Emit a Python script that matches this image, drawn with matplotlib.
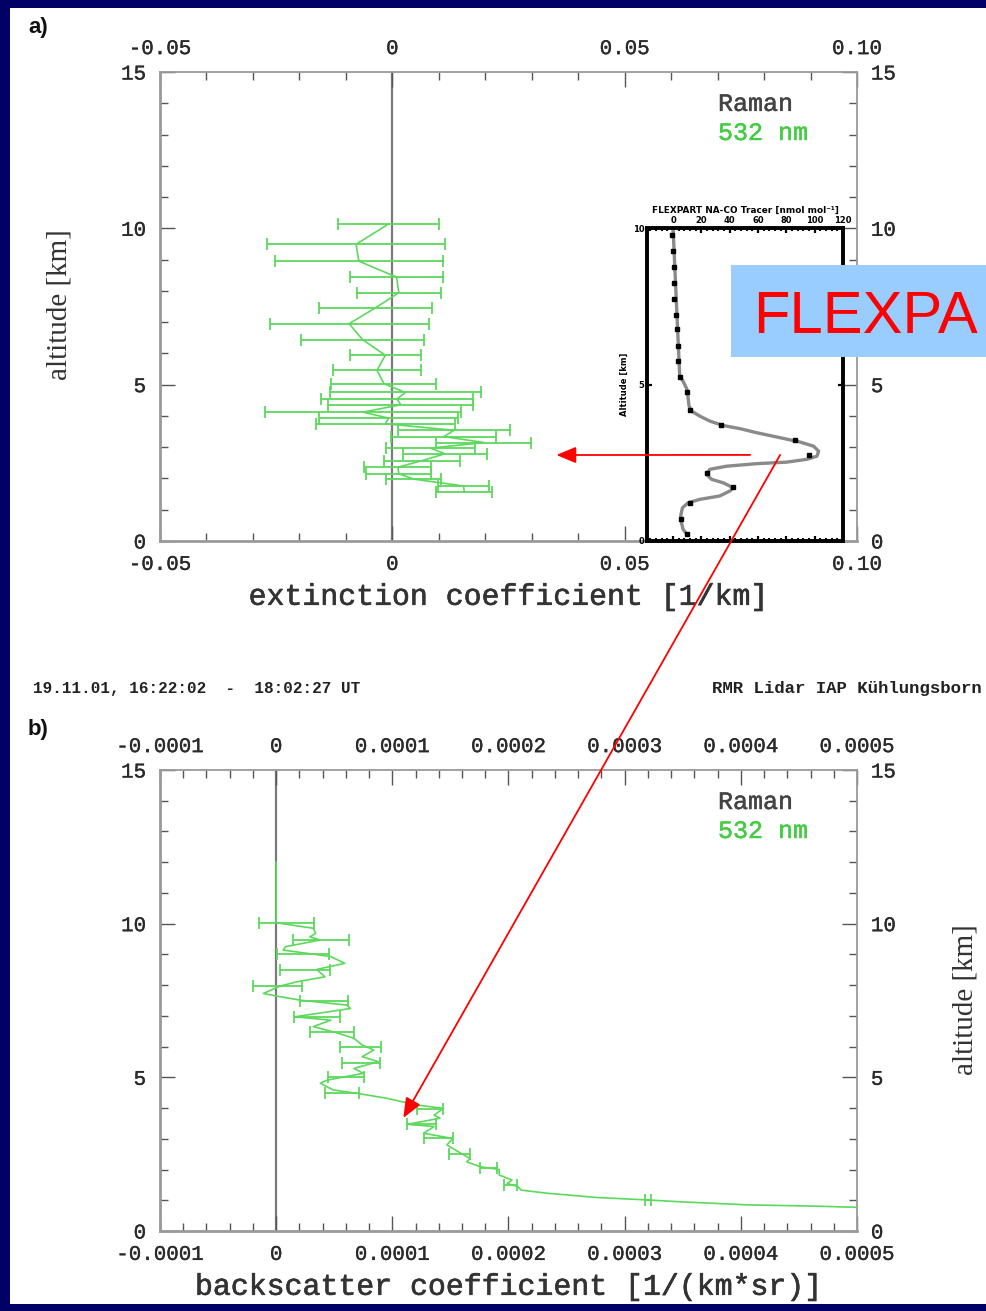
import matplotlib
matplotlib.use("Agg")
import matplotlib.pyplot as plt
import matplotlib.patheffects as pe
from matplotlib.patches import Rectangle, ConnectionPatch
from matplotlib.ticker import MultipleLocator

# ---------------- data ----------------
# (a) Raman extinction coefficient [1/km] with uncertainty
ext_alt = [10.13, 9.49, 8.95, 8.44, 7.94, 7.46, 6.95, 6.44, 5.94, 5.46, 5.03,
           4.75, 4.54, 4.36, 4.12, 3.93, 3.75, 3.54, 3.34, 3.15, 2.97, 2.79,
           2.57, 2.36, 2.15, 1.98, 1.76, 1.58]
ext_val = [-0.0009, -0.0078, -0.0072, 0.0009, 0.0014, -0.0036, -0.0093, -0.0064,
           -0.0015, -0.0033, -0.0018, 0.0028, 0.0010, 0.0018, -0.0063, -0.0008,
           -0.0015, 0.0133, 0.0111, 0.0197, 0.0082, 0.0113, 0.0064, 0.0012,
           0.0014, 0.0046, 0.0153, 0.0155]
ext_err = [0.0109, 0.0192, 0.0181, 0.0100, 0.0090, 0.0121, 0.0171, 0.0132,
           0.0076, 0.0094, 0.0113, 0.0163, 0.0163, 0.0156, 0.0211, 0.0149,
           0.0149, 0.0120, 0.0113, 0.0102, 0.0095, 0.0090, 0.0082, 0.0072,
           0.0070, 0.0059, 0.0055, 0.0060]
ext_ticks = [-0.05, 0.0, 0.05, 0.10]
ext_ticklabels = ["-0.05", "0", "0.05", "0.10"]

# (b) Raman backscatter coefficient [1/(km*sr)] profile
bsc_alt = [12.0, 11.0, 10.03, 9.85, 9.68, 9.57, 9.47, 9.25, 9.14, 8.93, 8.71,
           8.51, 8.27, 8.11, 7.97, 7.73, 7.64, 7.51, 7.35, 7.24, 6.97, 6.86,
           6.65, 6.45, 6.27, 6.05, 5.89, 5.67, 5.51, 5.29, 5.13, 4.91, 4.81,
           4.59, 4.48, 4.32, 4.10, 3.99, 3.77, 3.67, 3.47, 3.40, 3.18, 3.01,
           2.80, 2.53, 2.36, 2.25, 2.09, 2.00, 1.82, 1.66, 1.55, 1.44, 1.33,
           1.23, 1.09, 1.01, 0.95, 0.85, 0.81, 0.77]
bsc_val = [0.0, 0.0, 0.0, 3.2e-5, 3.4e-5, 2.9e-5, 3.8e-5, 0.8e-5, 0.6e-5,
           4.7e-5, 5.9e-5, 3.5e-5, 4.2e-5, 1.8e-5, 0.35e-5, -1.1e-5, 0.1e-5,
           2.1e-5, 6.1e-5, 6.4e-5, 1.6e-5, 4.7e-5, 3.2e-5, 5.2e-5, 6.7e-5,
           7.4e-5, 8.4e-5, 7.4e-5, 8.8e-5, 6.7e-5, 7.5e-5, 4.4e-5, 3.8e-5,
           4.9e-5, 6.95e-5, 9.5e-5, 12.1e-5, 14.4e-5, 13.6e-5, 14.1e-5, 11.3e-5,
           13.6e-5, 12.7e-5, 15.2e-5, 14.7e-5, 15.9e-5, 16.7e-5, 16.4e-5,
           17.6e-5, 19.2e-5, 19.2e-5, 20.3e-5, 19.9e-5, 20.8e-5, 21.1e-5,
           23.3e-5, 27.6e-5, 32.0e-5, 34.8e-5, 40.6e-5, 46.3e-5, 50.0e-5]
bsc_err_alt = [10.01, 9.47, 9.01, 8.49, 7.97, 7.49, 6.97, 6.48, 6.00, 5.48,
               5.00, 4.50, 3.96, 3.47, 3.01, 2.50, 2.04, 1.50, 1.01]
bsc_err_val = [0.88e-5, 3.9e-5, 2.28e-5, 2.5e-5, 0.1e-5, 4.08e-5, 3.53e-5,
               4.8e-5, 7.27e-5, 7.3e-5, 6.0e-5, 5.66e-5, 13.25e-5, 12.5e-5,
               13.97e-5, 15.8e-5, 18.3e-5, 20.2e-5, 32.0e-5]
bsc_err_half = [2.4e-5, 2.41e-5, 2.23e-5, 2.16e-5, 2.11e-5, 2.07e-5, 1.98e-5,
                1.87e-5, 1.75e-5, 1.65e-5, 1.54e-5, 1.44e-5, 1.12e-5, 1.22e-5,
                1.26e-5, 0.9e-5, 0.72e-5, 0.57e-5, 0.29e-5]
bsc_ticks = [-0.0001, 0.0, 0.0001, 0.0002, 0.0003, 0.0004, 0.0005]
bsc_ticklabels = ["-0.0001", "0", "0.0001", "0.0002", "0.0003", "0.0004", "0.0005"]

# FLEXPART NA-CO tracer profile [nmol/mol]
tracer_alt = [10.0, 5.27, 5.10, 4.84, 4.31, 4.15, 3.99, 3.83, 3.69, 3.59, 3.46,
              3.30, 3.16, 3.03, 2.87, 2.71, 2.61, 2.52, 2.47, 2.39, 2.29, 2.13,
              1.97, 1.86, 1.70, 1.60, 1.44, 1.33, 1.22, 1.06, 0.80, 0.59, 0.37,
              0.21]
tracer_val = [0.0, 4.7, 7.1, 9.9, 11.3, 13.0, 18.9, 26.0, 35.4, 47.2, 59.0,
              75.6, 89.8, 99.2, 102.8, 101.6, 94.5, 80.3, 59.0, 37.8, 26.0,
              23.6, 27.2, 35.4, 42.5, 40.2, 33.0, 18.9, 10.6, 6.6, 5.4, 5.9,
              7.1, 9.9]
tracer_mark_alt = [9.79, 9.26, 8.76, 8.24, 7.74, 7.23, 6.76, 6.22, 5.74, 5.23,
                   4.77, 4.20, 3.72, 3.24, 2.74, 2.18, 1.72, 1.22, 0.69, 0.21]
tracer_mark_val = [-0.5, 0.0, 0.5, 0.5, 1.0, 2.4, 2.8, 3.5, 3.8, 4.7, 10.0,
                   12.3, 33.8, 86.0, 96.0, 24.0, 42.5, 11.8, 5.9, 9.9]
tracer_ticks = [0, 20, 40, 60, 80, 100, 120]

# ---------------- style ----------------
NAVY = "#000066"
GREEN = "#5cd85c"
SPINE = "#9a9a9a"
MONO = "Liberation Mono"
SERIF = "Liberation Serif"

W, H = 987, 1311
fig = plt.figure(figsize=(W / 100, H / 100), dpi=100, facecolor=NAVY)


def fx(px):
    return px / W


def fy(py):
    return 1 - py / H


def heavy(color, width=0.4):
    # slightly thicker strokes for the thin monospace face
    return [pe.withStroke(linewidth=width, foreground=color)]


# white sheet inside the navy frame
fig.add_artist(Rectangle((fx(10), fy(1304)), fx(W - 10), (1304 - 8) / H,
                         transform=fig.transFigure, facecolor="white",
                         edgecolor="none", zorder=-1))


def style_profile_axes(ax, ticks, labels, minor_step):
    ax.set_xticks(ticks, labels)
    ax.xaxis.set_minor_locator(MultipleLocator(minor_step))
    ax.set_yticks([0, 5, 10, 15], ["0", "5", "10", "15"])
    ax.yaxis.set_minor_locator(MultipleLocator(1))
    ax.tick_params(which="both", direction="in", top=True, right=True,
                   labeltop=True, labelright=True, color="#555555", width=1.0)
    ax.tick_params(which="major", length=11)
    ax.tick_params(which="minor", length=6)
    ax.tick_params(axis="x", pad=10)
    ax.tick_params(axis="y", pad=10)
    for lab in ax.get_xticklabels() + ax.get_yticklabels():
        lab.set_fontfamily(MONO)
        lab.set_fontsize(15)
        lab.set_color("#2a2a2a")
        lab.set_path_effects(heavy("#2a2a2a", 0.25))
    for name, sp in ax.spines.items():
        sp.set_color(SPINE)
        sp.set_linewidth(2.0 if name in ("left", "bottom") else 1.3)
    ax.axvline(0, color="#7a7a7a", lw=1.6, zorder=1)


# ---------------- panel a ----------------
axA = fig.add_axes([fx(160), fy(541), fx(697), 469 / H])
axA.set_xlim(-0.05, 0.10)
axA.set_ylim(0, 15)
style_profile_axes(axA, ext_ticks, ext_ticklabels, 0.01)
axA.errorbar(ext_val, ext_alt, xerr=ext_err, color=GREEN, lw=1.2,
             elinewidth=1.3, capsize=4.5, capthick=1.3, zorder=3)
axA.set_xlabel("extinction coefficient [1/km]", fontfamily=MONO,
               fontsize=21.5, color="#333333", path_effects=heavy("#333333", 0.45))
axA.xaxis.set_label_coords(0.499, -0.119)
axA.xaxis.label.set_va("center")
axA.set_ylabel("altitude [km]", fontfamily=SERIF, fontsize=21,
               color="#333333")
axA.yaxis.set_label_coords(-0.1435, 0.503)
axA.yaxis.label.set_va("center")
axA.text(0.8006, 0.932, "Raman", transform=axA.transAxes, fontfamily=MONO,
         fontsize=18, color="#444444", va="center", ha="left",
         path_effects=heavy("#444444", 0.35))
axA.text(0.8006, 0.870, "532 nm", transform=axA.transAxes, fontfamily=MONO,
         fontsize=18, color="#44cc44", va="center", ha="left",
         path_effects=heavy("#44cc44", 0.35))

# ---------------- FLEXPART inset ----------------
axI = fig.add_axes([fx(647), fy(541), fx(196), 313 / H])
axI.set_facecolor("white")
axI.set_xlim(-18.4, 120)
axI.set_ylim(0, 10)
axI.plot(tracer_val, tracer_alt, color="#8a8a8a", lw=2.4, zorder=2)
axI.plot(tracer_mark_val, tracer_mark_alt, "s", color="black", ms=2.6,
         zorder=3)
axI.set_xticks(tracer_ticks, [str(t) for t in tracer_ticks])
axI.xaxis.set_minor_locator(MultipleLocator(4))
axI.set_yticks([0, 5, 10], ["0", "5", "10"])
axI.tick_params(which="both", direction="in", top=True, right=True,
                labeltop=True, labelbottom=False, color="black",
                labelsize=6, pad=2)
axI.tick_params(which="major", length=3.5, width=1.6)
axI.tick_params(which="minor", length=2.5, width=1.4)
for lab in axI.get_xticklabels() + axI.get_yticklabels():
    lab.set_fontweight("bold")
for sp in axI.spines.values():
    sp.set_color("black")
    sp.set_linewidth(2.8)
axI.set_title("FLEXPART NA-CO Tracer [nmol mol\u207b\u00b9]", fontsize=6.4,
              fontweight="bold", pad=11)
axI.set_ylabel("Altitude [km]", fontsize=6, fontweight="bold", labelpad=3)

# ---------------- panel b ----------------
axB = fig.add_axes([fx(160), fy(1231), fx(697), 461 / H])
axB.set_xlim(-0.0001, 0.0005)
axB.set_ylim(0, 15)
style_profile_axes(axB, bsc_ticks, bsc_ticklabels, 0.00002)
axB.plot(bsc_val, bsc_alt, color=GREEN, lw=1.2, zorder=3)
axB.errorbar(bsc_err_val, bsc_err_alt, xerr=bsc_err_half, fmt="none",
             ecolor=GREEN, elinewidth=1.3, capsize=4.5, capthick=1.3,
             zorder=3)
axB.set_xlabel("backscatter coefficient [1/(km*sr)]", fontfamily=MONO,
               fontsize=21.5, color="#333333", path_effects=heavy("#333333", 0.45))
axB.xaxis.set_label_coords(0.499, -0.121)
axB.xaxis.label.set_va("center")
axB.yaxis.set_label_position("right")
axB.set_ylabel("altitude [km]", fontfamily=SERIF, fontsize=21,
               color="#333333", rotation=90)
axB.yaxis.set_label_coords(1.155, 0.501)
axB.yaxis.label.set_va("center")
axB.text(0.8006, 0.9306, "Raman", transform=axB.transAxes, fontfamily=MONO,
         fontsize=18, color="#444444", va="center", ha="left",
         path_effects=heavy("#444444", 0.35))
axB.text(0.8006, 0.8677, "532 nm", transform=axB.transAxes, fontfamily=MONO,
         fontsize=18, color="#44cc44", va="center", ha="left",
         path_effects=heavy("#44cc44", 0.35))

# ---------------- figure annotations ----------------
fig.text(fx(28), fy(28), "a)", fontfamily="Liberation Sans", fontsize=16,
         fontweight="bold", color="#111111", va="center", ha="left")
fig.text(fx(28), fy(730), "b)", fontfamily="Liberation Sans", fontsize=16,
         fontweight="bold", color="#111111", va="center", ha="left")
fig.text(fx(33), fy(688), "19.11.01, 16:22:02  -  18:02:27 UT",
         fontfamily=MONO, fontsize=11.5, fontweight="bold", color="#222222",
         va="center", ha="left")
fig.text(fx(982), fy(688), "RMR Lidar IAP K\u00fchlungsborn", fontfamily=MONO,
         fontsize=12.5, fontweight="bold", color="#222222", va="center",
         ha="right")

# red arrows linking the tracer peak to both profiles
arrow_style = "-|>,head_length=0.6,head_width=0.25"
link_a = ConnectionPatch(xyA=(54.4, 2.75), coordsA=axI.transData,
                         xyB=(0.0353, 2.75), coordsB=axA.transData,
                         arrowstyle=arrow_style, mutation_scale=20,
                         color="red", lw=1.3, shrinkA=0, shrinkB=0)
link_b = ConnectionPatch(xyA=(75.6, 2.75), coordsA=axI.transData,
                         xyB=(1.095e-4, 3.68), coordsB=axB.transData,
                         arrowstyle=arrow_style, mutation_scale=20,
                         color="red", lw=1.3, shrinkA=0, shrinkB=0)
for link in (link_a, link_b):
    link.set_zorder(10)
    fig.add_artist(link)

# FLEXPART caption box
fig.add_artist(Rectangle((fx(731), fy(357)), fx(W - 731), 92 / H,
                         transform=fig.transFigure, facecolor="#99ccff",
                         edgecolor="none", zorder=11))
fig.text(fx(753), fy(333), "FLEXPA", fontfamily="Liberation Sans",
         fontsize=43, color="#ff0000", va="baseline", ha="left", zorder=12)

fig.savefig("out.png", dpi=100, facecolor=NAVY)
